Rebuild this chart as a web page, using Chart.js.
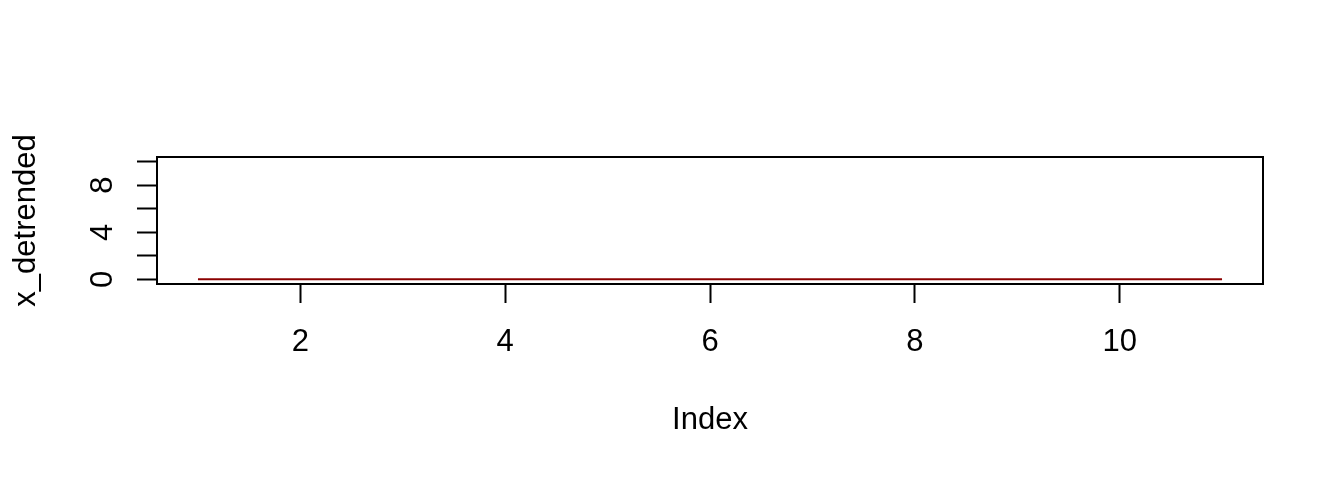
<!DOCTYPE html>
<html>
<head>
<meta charset="utf-8">
<script src="https://cdn.jsdelivr.net/npm/chart.js@4"></script>
<style>
  body { margin: 0; background: #fff; }
  #wrap { width: 1344px; height: 480px; }
</style>
</head>
<body>
<div id="wrap"><canvas id="detrendChart"></canvas></div>
<script>
// Series values (index 1..11, detrended signal is flat at zero)
const indexValues = [1, 2, 3, 4, 5, 6, 7, 8, 9, 10, 11];
const detrendedValues = [0, 0, 0, 0, 0, 0, 0, 0, 0, 0, 0];

// Axis ticks
const xTicks = [2, 4, 6, 8, 10];
const yTicks = [0, 2, 4, 6, 8, 10];
const yLabels = [0, 4, 8];

const FONT = '"Liberation Sans", Arial, Helvetica, sans-serif';

// Draw the plot box and the rotated y tick labels (R style)
const boxAndLabels = {
  id: 'boxAndLabels',
  afterDraw(chart) {
    const { ctx, chartArea: a, scales: { y } } = chart;
    ctx.save();
    ctx.strokeStyle = '#000';
    ctx.lineWidth = 2;
    ctx.strokeRect(a.left, a.top, a.right - a.left, a.bottom - a.top);

    ctx.fillStyle = '#000';
    ctx.font = '31px ' + FONT;
    ctx.textAlign = 'center';
    ctx.textBaseline = 'alphabetic';
    yLabels.forEach(v => {
      ctx.save();
      ctx.translate(a.left - 45, y.getPixelForValue(v));
      ctx.rotate(-Math.PI / 2);
      ctx.fillText(String(v), 0, 0);
      ctx.restore();
    });
    ctx.restore();
  }
};

const ctx = document.getElementById('detrendChart');
new Chart(ctx, {
  type: 'line',
  data: {
    datasets: [{
      data: indexValues.map((x, i) => ({ x: x, y: detrendedValues[i] })),
      borderColor: '#8b0000',
      borderWidth: 2,
      pointRadius: 0,
      tension: 0,
      fill: false
    }]
  },
  options: {
    responsive: true,
    maintainAspectRatio: false,
    animation: false,
    events: [],
    plugins: {
      legend: { display: false },
      tooltip: { enabled: false }
    },
    layout: {
      padding: { top: 157, right: 81, left: 0, bottom: 0 }
    },
    scales: {
      x: {
        type: 'linear',
        min: 0.6,
        max: 11.4,
        afterBuildTicks: s => { s.ticks = xTicks.map(v => ({ value: v })); },
        afterFit: s => { s.height = 196; },
        border: { display: false },
        grid: {
          drawOnChartArea: false,
          drawTicks: true,
          tickLength: 19,
          tickWidth: 2,
          tickColor: '#000'
        },
        ticks: {
          autoSkip: false,
          maxRotation: 0,
          padding: 21,
          color: '#000',
          font: { family: FONT, size: 31 }
        },
        title: {
          display: true,
          text: 'Index',
          color: '#000',
          font: { family: FONT, size: 31 },
          padding: { bottom: 41, top: 0 }
        }
      },
      y: {
        type: 'linear',
        min: -0.4,
        max: 10.4,
        afterBuildTicks: s => { s.ticks = yTicks.map(v => ({ value: v })); },
        afterFit: s => { s.width = 157; },
        border: { display: false },
        grid: {
          drawOnChartArea: false,
          drawTicks: true,
          tickLength: 20,
          tickWidth: 2,
          tickColor: '#000'
        },
        ticks: { display: false },
        title: {
          display: true,
          text: 'x_detrended',
          color: '#000',
          font: { family: FONT, size: 31 },
          padding: { top: 8, bottom: 0 }
        }
      }
    }
  },
  plugins: [boxAndLabels]
});
</script>
</body>
</html>
